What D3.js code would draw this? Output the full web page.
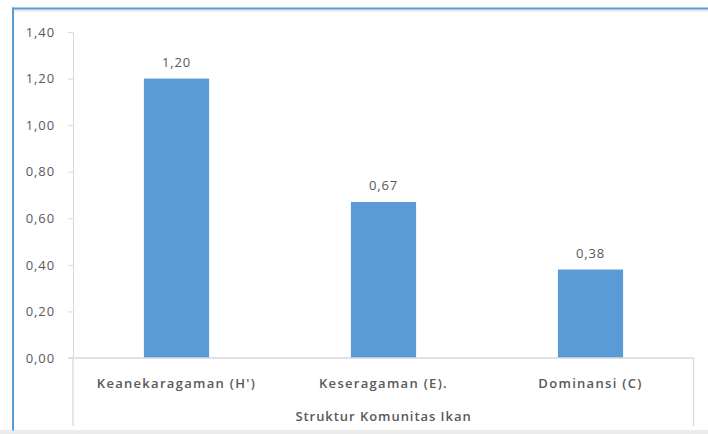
<!DOCTYPE html>
<html>
<head>
<meta charset="utf-8">
<script src="https://cdn.jsdelivr.net/npm/d3@7"></script>
<style>
  html, body { margin: 0; padding: 0; background: #fff; }
  svg { display: block; }
  text { font-family: "Open Sans", Lato, sans-serif; fill: #595959; }
</style>
</head>
<body>
<svg id="chart" width="708" height="434"></svg>
<script>
// Struktur komunitas ikan: indeks keanekaragaman, keseragaman, dominansi
const categories = ["Keanekaragaman (H')", "Keseragaman (E).", "Dominansi (C)"];
const values = [1.20, 0.67, 0.38];
const yTicks = [0, 0.2, 0.4, 0.6, 0.8, 1.0, 1.2, 1.4];
const axisTitle = "Struktur Komunitas Ikan";

const svg = d3.select("#chart");
const fmt = v => d3.format(".2f")(v).replace(".", ",");

// chart frame and lower strip
svg.append("rect").attr("x", 0).attr("y", 430).attr("width", 708).attr("height", 4).attr("fill", "#ececec");
svg.append("rect").attr("x", 12).attr("y", 9.5).attr("width", 696).attr("height", 2).attr("fill", "#e4e9ef");
svg.append("rect").attr("x", 12).attr("y", 7.5).attr("width", 696).attr("height", 2).attr("fill", "#5b9bd5");
svg.append("rect").attr("x", 12).attr("y", 7.5).attr("width", 2).attr("height", 423).attr("fill", "#5b9bd5");

const plot = { left: 73, right: 694, top: 32, bottom: 358 };

const x = d3.scaleBand().domain(categories).range([plot.left, plot.right]).paddingInner(0.685).paddingOuter(0.3425);
const y = d3.scaleLinear().domain([0, 1.4]).range([plot.bottom, plot.top]);

// y axis
const yAxis = svg.append("g").attr("transform", `translate(${plot.left},0)`)
  .call(d3.axisLeft(y).tickValues(yTicks).tickFormat(fmt).tickSize(5).tickSizeOuter(0));
yAxis.select(".domain").attr("stroke", "#d9d9d9");
yAxis.selectAll(".tick line").attr("stroke", "#d9d9d9");
yAxis.selectAll(".tick text")
  .attr("x", -18)
  .attr("font-size", 13)
  .style("font-family", "'Open Sans', sans-serif")
  .style("letter-spacing", "0.9px")
  .attr("fill", "#595959");

// bars
svg.append("g").selectAll("rect").data(values).join("rect")
  .attr("x", (d, i) => x(categories[i]))
  .attr("width", x.bandwidth())
  .attr("y", d => y(d))
  .attr("height", d => y(0) - y(d))
  .attr("fill", "#5b9bd5");

// value labels
svg.append("g").selectAll("text").data(values).join("text")
  .attr("x", (d, i) => x(categories[i]) + x.bandwidth() / 2)
  .attr("y", d => y(d) - 12)
  .attr("text-anchor", "middle")
  .attr("font-size", 13)
  .style("letter-spacing", "0.8px")
  .text(fmt);

// category axis with multi-level box
const axisG = svg.append("g").attr("stroke", "#d9d9d9").attr("stroke-width", 1.3);
axisG.append("line").attr("x1", plot.left - 5).attr("x2", plot.right).attr("y1", plot.bottom).attr("y2", plot.bottom);
axisG.append("line").attr("x1", plot.left).attr("x2", plot.left).attr("y1", plot.bottom).attr("y2", 426);
axisG.append("line").attr("x1", plot.right - 0.5).attr("x2", plot.right - 0.5).attr("y1", plot.bottom).attr("y2", 426);

svg.append("g").selectAll("text").data(categories).join("text")
  .attr("x", d => x(d) + x.bandwidth() / 2)
  .attr("y", 388)
  .attr("text-anchor", "middle")
  .attr("font-size", 13)
  .attr("font-weight", 600)
  .style("letter-spacing", "1.3px")
  .attr("fill", "#404040")
  .text(d => d);

svg.append("text")
  .attr("x", (plot.left + plot.right) / 2)
  .attr("y", 421)
  .attr("text-anchor", "middle")
  .attr("font-size", 13)
  .attr("font-weight", 600)
  .style("letter-spacing", "0.95px")
  .attr("fill", "#404040")
  .text(axisTitle);
</script>
</body>
</html>
